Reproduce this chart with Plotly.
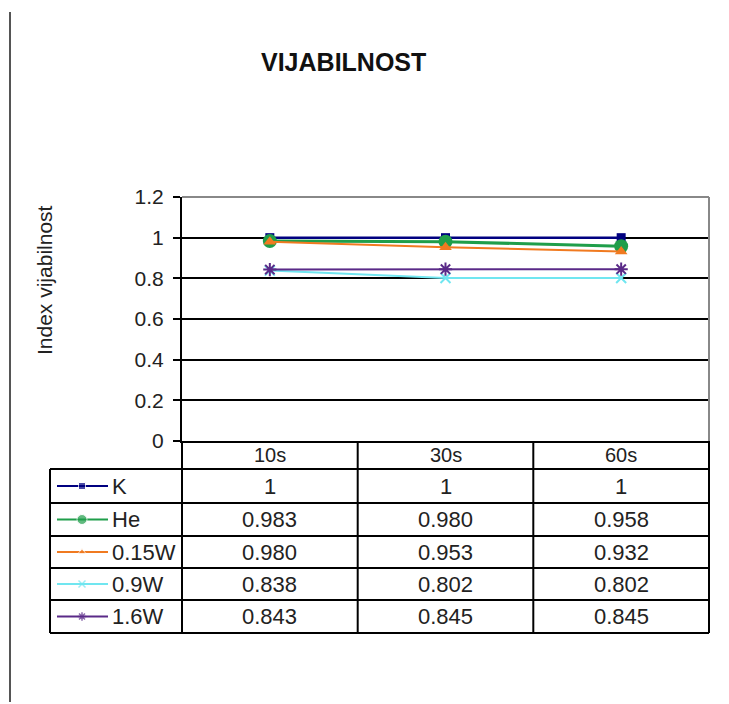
import plotly.graph_objects as go

# ---------------- data ----------------
categories = ["10s", "30s", "60s"]
series_names = ["K", "He", "0.15W", "0.9W", "1.6W"]
k_vals = [1, 1, 1]
he_vals = [0.983, 0.980, 0.958]
w015_vals = [0.980, 0.953, 0.932]
w09_vals = [0.838, 0.802, 0.802]
w16_vals = [0.843, 0.845, 0.845]
y_ticks = [0, 0.2, 0.4, 0.6, 0.8, 1, 1.2]
y_tick_text = ["0", "0.2", "0.4", "0.6", "0.8", "1", "1.2"]

all_vals = [k_vals, he_vals, w015_vals, w09_vals, w16_vals]

# ---------------- styles ----------------
W, H = 729, 704
FONT = "Liberation Sans, Arial, sans-serif"
colors = ["#000080", "#1f9e4a", "#f07a20", "#70e6f0", "#5a2a88"]
symbols = ["square", "circle", "triangle-up", "x-thin", "asterisk"]
msizes = [9, 14, 11, 10, 11]
lwidths = [2.5, 3, 2, 2, 2]


def px(x):
    return x / W


def py(y):
    return 1 - y / H


# plot-area pixels
X0, X1 = 182, 709
Y_TOP, Y_BOT = 197, 441
TBL_LEFT = 50
row_lines = [469, 503, 536, 568, 600, 633]

fig = go.Figure()

# legend keys inside the data table (overlay pixel axes) - added first
for i, (name, c, s, ms, lw) in enumerate(zip(series_names, colors, symbols, msizes, lwidths)):
    yc = (row_lines[i] + row_lines[i + 1]) / 2
    marker = dict(symbol=s, size=[0, max(ms - 4, 7), 0], color=c)
    if s in ("x-thin", "asterisk"):
        marker["line"] = dict(color=c, width=1.5)
    fig.add_trace(go.Scatter(
        x=[57, 82, 108], y=[yc, yc, yc], mode="lines+markers",
        line=dict(color=c, width=2), marker=marker,
        xaxis="x2", yaxis="y2", showlegend=False, hoverinfo="skip",
    ))

for name, vals, c, s, ms, lw in zip(series_names, all_vals, colors, symbols, msizes, lwidths):
    marker = dict(symbol=s, size=ms, color=c)
    if s in ("x-thin", "asterisk"):
        marker["line"] = dict(color=c, width=2)
    fig.add_trace(go.Scatter(
        x=categories, y=vals, name=name, mode="lines+markers",
        line=dict(color=c, width=lw), marker=marker,
        xaxis="x", yaxis="y", showlegend=False, cliponaxis=False,
    ))

fig.update_layout(
    template="none",
    width=W, height=H, autosize=False,
    margin=dict(l=0, r=0, t=0, b=0, pad=0),
    paper_bgcolor="white", plot_bgcolor="rgba(0,0,0,0)",
    showlegend=False,
    font=dict(family=FONT, size=20, color="#222"),
    xaxis=dict(
        domain=[px(X0), px(X1)], anchor="y", automargin=False,
        type="category", range=[-0.5, 2.5],
        showticklabels=False, showgrid=False, zeroline=False,
        showline=True, linecolor="black", linewidth=2, ticks="",
    ),
    yaxis=dict(
        domain=[py(Y_BOT), py(Y_TOP)], anchor="x", automargin=False,
        range=[0, 1.2], tickvals=y_ticks, ticktext=y_tick_text,
        showgrid=True, gridcolor="black", gridwidth=1.5,
        zeroline=False, showline=True, linecolor="black", linewidth=2,
        ticks="outside", ticklen=7, tickcolor="black", tickwidth=1.5,
        ticklabelstandoff=5,
        tickfont=dict(family=FONT, size=21, color="#222"),
    ),
    xaxis2=dict(domain=[0, 1], anchor="y2", range=[0, W], visible=False,
                fixedrange=True, automargin=False, showgrid=False, zeroline=False),
    yaxis2=dict(domain=[0, 1], anchor="x2", range=[H, 0], visible=False,
                fixedrange=True, automargin=False, showgrid=False, zeroline=False),
)

shapes = []
# outer left frame line
shapes.append(dict(type="line", xref="paper", yref="paper",
                   x0=px(10), x1=px(10), y0=py(12), y1=py(702),
                   line=dict(color="#555", width=2)))
# plot-area border top and right (grey)
shapes.append(dict(type="line", xref="paper", yref="paper",
                   x0=px(X0), x1=px(X1), y0=py(Y_TOP), y1=py(Y_TOP),
                   line=dict(color="#888", width=2), layer="above"))
shapes.append(dict(type="line", xref="paper", yref="paper",
                   x0=px(X1), x1=px(X1), y0=py(Y_TOP), y1=py(Y_BOT),
                   line=dict(color="#888", width=2), layer="above"))
# table lines
for yl in row_lines:
    shapes.append(dict(type="line", xref="paper", yref="paper",
                       x0=px(TBL_LEFT), x1=px(X1), y0=py(yl), y1=py(yl),
                       line=dict(color="black", width=2)))
for xl in [X0, 357.7, 533.3, X1]:
    shapes.append(dict(type="line", xref="paper", yref="paper",
                       x0=px(xl), x1=px(xl), y0=py(Y_BOT), y1=py(row_lines[-1]),
                       line=dict(color="black", width=2)))
shapes.append(dict(type="line", xref="paper", yref="paper",
                   x0=px(TBL_LEFT), x1=px(TBL_LEFT), y0=py(row_lines[0]), y1=py(row_lines[-1]),
                   line=dict(color="black", width=2)))
fig.update_layout(shapes=shapes)

ann = []
ann.append(dict(text="<b>VIJABILNOST</b>", xref="paper", yref="paper",
                x=px(343), y=py(62), showarrow=False, xanchor="center", yanchor="middle",
                font=dict(family=FONT, size=25, color="#111")))
ann.append(dict(text="Index vijabilnost", xref="paper", yref="paper",
                x=px(44), y=py(280), showarrow=False, textangle=-90,
                xanchor="center", yanchor="middle",
                font=dict(family=FONT, size=21, color="#222")))
# header row (categories)
for cat in categories:
    ann.append(dict(text=cat, xref="x", yref="paper", x=cat,
                    y=py((Y_BOT + row_lines[0]) / 2), showarrow=False,
                    xanchor="center", yanchor="middle",
                    font=dict(family=FONT, size=20, color="#222")))


def fmt(v):
    return "1" if v == 1 else f"{v:.3f}"


for i, (name, vals) in enumerate(zip(series_names, all_vals)):
    yc = (row_lines[i] + row_lines[i + 1]) / 2
    ann.append(dict(text=name, xref="paper", yref="paper", x=px(110), y=py(yc),
                    xanchor="left", yanchor="middle", showarrow=False,
                    font=dict(family=FONT, size=22, color="#222")))
    for cat, v in zip(categories, vals):
        ann.append(dict(text=fmt(v), xref="x", yref="paper", x=cat, y=py(yc),
                        xanchor="center", yanchor="middle",
                        showarrow=False, font=dict(family=FONT, size=22, color="#222")))
fig.update_layout(annotations=ann)

fig.write_html("out.html")
